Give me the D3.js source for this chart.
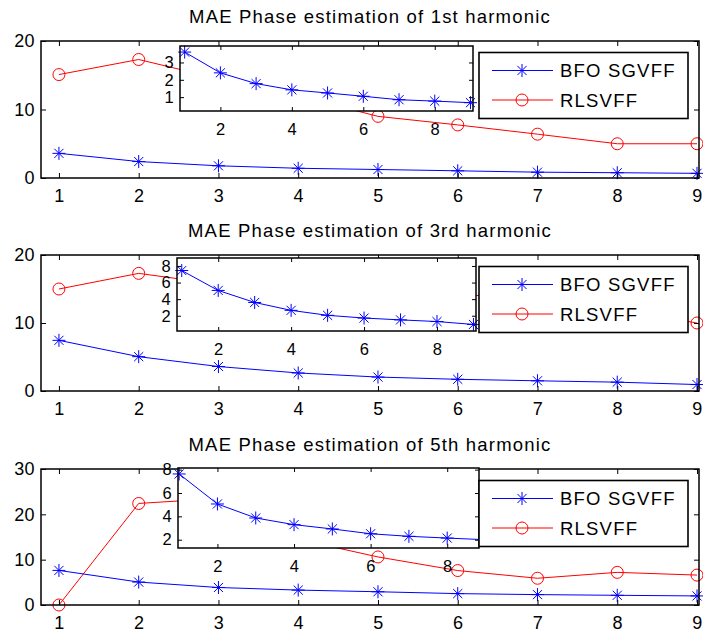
<!DOCTYPE html>
<html>
<head>
<meta charset="utf-8">
<script src="https://cdn.jsdelivr.net/npm/d3@7"></script>
<style>
  html, body { margin: 0; padding: 0; background: #fff; }
</style>
</head>
<body>
<div id="chart"></div>
<script>
// data
const steps = [1, 2, 3, 4, 5, 6, 7, 8, 9];
const seriesNames = ["BFO SGVFF", "RLSVFF"];
const titles = [
  "MAE Phase estimation of 1st harmonic",
  "MAE Phase estimation of 3rd harmonic",
  "MAE Phase estimation of 5th harmonic"
];
const bfo1st = [3.6, 2.4, 1.78, 1.42, 1.24, 1.05, 0.85, 0.77, 0.68];
const rls1st = [15.1, 17.3, 14.5, 12.0, 9.0, 7.75, 6.4, 5.0, 5.0];
const bfo3rd = [7.45, 5.05, 3.6, 2.65, 2.05, 1.72, 1.5, 1.3, 0.95];
const rls3rd = [15.0, 17.3, 15.7, 15.2, 14.8, 14.3, 13.3, 12.0, 10.0];
const bfo5th = [7.63, 5.06, 3.86, 3.29, 2.92, 2.51, 2.29, 2.14, 2.0];
const rls5th = [0, 22.4, 23.5, 14.5, 10.6, 7.6, 5.9, 7.2, 6.6];
const yTicks1st = [0, 10, 20];
const yTicks3rd = [0, 10, 20];
const yTicks5th = [0, 10, 20, 30];
const insetXTicks = [2, 4, 6, 8];
const insetYTicks1st = [1, 2, 3];
const insetYTicks3rd = [2, 4, 6, 8];
const insetYTicks5th = [2, 4, 6, 8];

class Chart {
  constructor() {
    const attrs = {
      container: "#chart",
      svgWidth: 703,
      svgHeight: 631,
      defaultFont: "'Liberation Sans', Arial, Helvetica, sans-serif",
      axisLeft: 41,
      axisRight: 699,
      xlim: [0.775, 9.025],
      blue: "#0000ff",
      red: "#ff0000",
      panels: []
    };
    this.getState = () => attrs;
    this.setState = (d) => Object.assign(attrs, d);
  }

  render() {
    this.drawSvg();
    const { panels } = this.getState();
    panels.forEach((p, i) => this.drawPanel(p, i));
    return this;
  }

  drawSvg() {
    const { container, svgWidth, svgHeight, defaultFont } = this.getState();
    const svg = d3.select(container).append("svg")
      .attr("width", svgWidth)
      .attr("height", svgHeight)
      .attr("font-family", defaultFont);
    svg.append("rect").attr("width", svgWidth).attr("height", svgHeight).attr("fill", "#fff");
    this.setState({ svg });
  }

  // MATLAB style '*' marker
  starPath(s) {
    const d = s * 0.7;
    return `M${-s},0L${s},0M0,${-s}L0,${s}M${-d},${-d}L${d},${d}M${-d},${d}L${d},${-d}`;
  }

  drawSeries(g, x, y, bfo, rls, clipId, xlim) {
    const { blue, red } = this.getState();
    const inRange = (i) => steps[i] >= xlim[0] && steps[i] <= xlim[1];
    const line = d3.line().x((d, i) => x(steps[i])).y(d => y(d));

    if (rls) {
      g.append("path").datum(rls)
        .attr("clip-path", `url(#${clipId})`)
        .attr("fill", "none").attr("stroke", red).attr("stroke-width", 1)
        .attr("d", line);
    }
    g.append("path").datum(bfo)
      .attr("clip-path", `url(#${clipId})`)
      .attr("fill", "none").attr("stroke", blue).attr("stroke-width", 1)
      .attr("d", line);

    if (rls) {
      g.selectAll(".rls-marker").data(rls.map((v, i) => ({ v, i })).filter(d => inRange(d.i)))
        .enter().append("circle").attr("class", "rls-marker")
        .attr("cx", d => x(steps[d.i])).attr("cy", d => y(d.v)).attr("r", 6)
        .attr("fill", "none").attr("stroke", red).attr("stroke-width", 1);
    }
    g.selectAll(".bfo-marker").data(bfo.map((v, i) => ({ v, i })).filter(d => inRange(d.i)))
      .enter().append("path").attr("class", "bfo-marker")
      .attr("transform", d => `translate(${x(steps[d.i])},${y(d.v)})`)
      .attr("d", this.starPath(6.5))
      .attr("fill", "none").attr("stroke", blue).attr("stroke-width", 1);
  }

  drawAxes(g, x, y, xTicks, yTicks, fontSize, tick) {
    const [x0, x1] = x.range();
    const [y1, y0] = y.range();
    const fmt = d3.format("d");
    const style = (a) => {
      a.select(".domain").remove();
      a.selectAll("line").attr("stroke", "#000").attr("stroke-width", 1);
      a.selectAll("text").attr("fill", "#000").attr("font-size", fontSize)
        .attr("letter-spacing", 0.4);
      a.attr("font-family", null).attr("font-size", null);
    };
    g.append("g").attr("transform", `translate(0,${y1})`)
      .call(d3.axisBottom(x).tickValues(xTicks).tickFormat(fmt).tickSize(-tick).tickPadding(23.5 - 0.71 * fontSize))
      .call(style);
    g.append("g").attr("transform", `translate(0,${y0})`)
      .call(d3.axisTop(x).tickValues(xTicks).tickSize(-tick).tickFormat(""))
      .call(style);
    g.append("g").attr("transform", `translate(${x0},0)`)
      .call(d3.axisLeft(y).tickValues(yTicks).tickFormat(fmt).tickSize(-tick).tickPadding(6))
      .call(style);
    g.append("g").attr("transform", `translate(${x1},0)`)
      .call(d3.axisRight(y).tickValues(yTicks).tickSize(-tick).tickFormat(""))
      .call(style);
    g.append("rect")
      .attr("x", x0).attr("y", y0).attr("width", x1 - x0).attr("height", y1 - y0)
      .attr("fill", "none").attr("stroke", "#000").attr("stroke-width", 1.5);
  }

  drawPanel(p, idx) {
    const { svg, axisLeft, axisRight, xlim, blue, red } = this.getState();
    const g = svg.append("g").attr("class", "panel");

    const x = d3.scaleLinear().domain(xlim).range([axisLeft, axisRight]);
    const y = d3.scaleLinear().domain(p.ylim).range([p.top + p.height, p.top]);

    const clipId = "clip-main-" + idx;
    g.append("clipPath").attr("id", clipId).append("rect")
      .attr("x", axisLeft).attr("y", p.top).attr("width", axisRight - axisLeft).attr("height", p.height);

    // title
    g.append("text")
      .attr("x", (axisLeft + axisRight) / 2).attr("y", p.top - 18)
      .attr("text-anchor", "middle").attr("font-size", 18.5).attr("letter-spacing", 1.2)
      .text(p.title);

    this.drawSeries(g, x, y, p.bfo, p.rls, clipId, xlim);
    this.drawAxes(g, x, y, steps, p.yTicks, 18, 5);

    // inset zoom of the BFO SGVFF curve
    const ins = p.inset;
    const xi = d3.scaleLinear().domain(ins.xlim).range([ins.x0, ins.x1]);
    const yi = d3.scaleLinear().domain(ins.ylim).range([ins.y1, ins.y0]);
    const insetClip = "clip-inset-" + idx;
    g.append("clipPath").attr("id", insetClip).append("rect")
      .attr("x", ins.x0).attr("y", ins.y0).attr("width", ins.x1 - ins.x0).attr("height", ins.y1 - ins.y0);
    g.append("rect")
      .attr("x", ins.x0).attr("y", ins.y0).attr("width", ins.x1 - ins.x0).attr("height", ins.y1 - ins.y0)
      .attr("fill", "#fff");
    const gi = g.append("g").attr("class", "inset");
    this.drawSeries(gi, xi, yi, p.bfo, null, insetClip, ins.xlim);
    this.drawAxes(gi, xi, yi, insetXTicks, p.insetYTicks, 16.5, 4);

    // legend
    const lx = 479, lw = 209, lh = 66, ly = p.top + 11.5;
    const lg = g.append("g").attr("class", "legend");
    lg.append("rect").attr("x", lx).attr("y", ly).attr("width", lw).attr("height", lh)
      .attr("fill", "#fff").attr("stroke", "#000").attr("stroke-width", 1.6);
    const entries = [
      { name: seriesNames[0], color: blue, dy: 18 },
      { name: seriesNames[1], color: red, dy: 47.5 }
    ];
    entries.forEach((e, i) => {
      const yy = ly + e.dy;
      lg.append("line").attr("x1", lx + 13).attr("x2", lx + 74).attr("y1", yy).attr("y2", yy)
        .attr("stroke", e.color).attr("stroke-width", 1);
      if (i === 0) {
        lg.append("path").attr("transform", `translate(${lx + 43},${yy})`)
          .attr("d", this.starPath(6.5)).attr("fill", "none").attr("stroke", e.color);
      } else {
        lg.append("circle").attr("cx", lx + 43).attr("cy", yy).attr("r", 6)
          .attr("fill", "none").attr("stroke", e.color);
      }
      lg.append("text").attr("x", lx + 81).attr("y", yy + 6.5)
        .attr("font-size", 18.5).attr("letter-spacing", 1.2).text(e.name);
    });
  }
}

const panels = [
  { title: titles[0], bfo: bfo1st, rls: rls1st, yTicks: yTicks1st, insetYTicks: insetYTicks1st,
    top: 41, height: 137, ylim: [0, 20],
    inset: { x0: 180, x1: 473, y0: 46, y1: 111, xlim: [0.87, 9.07], ylim: [0.2, 3.95] } },
  { title: titles[1], bfo: bfo3rd, rls: rls3rd, yTicks: yTicks3rd, insetYTicks: insetYTicks3rd,
    top: 255, height: 136, ylim: [0, 20],
    inset: { x0: 177, x1: 476, y0: 258, y1: 331, xlim: [0.87, 9.07], ylim: [0.16, 8.96] } },
  { title: titles[2], bfo: bfo5th, rls: rls5th, yTicks: yTicks5th, insetYTicks: insetYTicks5th,
    top: 469, height: 136, ylim: [0, 30],
    inset: { x0: 178, x1: 479, y0: 468, y1: 548, xlim: [0.97, 8.83], ylim: [1.29, 8.14] } }
];

const chart = new Chart();
chart.setState({ panels });
chart.render();
</script>
</body>
</html>
